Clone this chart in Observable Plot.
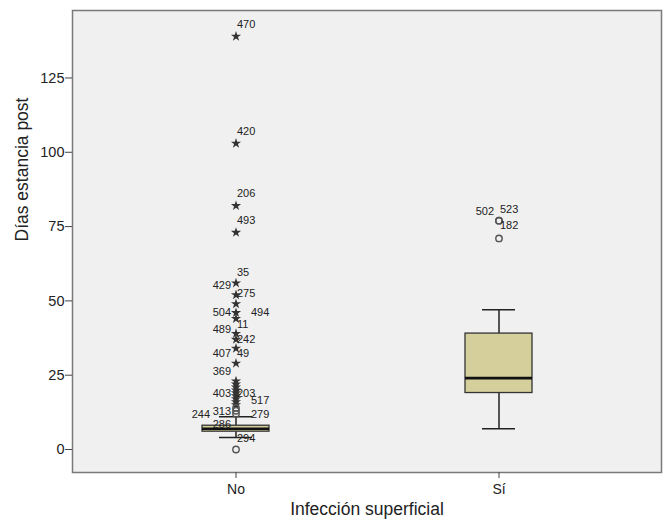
<!DOCTYPE html>
<html><head><meta charset="utf-8">
<script src="https://cdn.jsdelivr.net/npm/d3@7"></script>
<script src="https://cdn.jsdelivr.net/npm/@observablehq/plot@0.6"></script>
<style>body{margin:0;background:#fff;} svg{display:block}</style>
</head><body><div id="chart"></div>
<script>
// Box summaries per group
const groups = ["No", "Sí"];
const q1 = [6, 19];
const median = [7, 24];
const q3 = [8, 39];
const whiskerLow = [4, 7];
const whiskerHigh = [11, 47];
const yTicks = [0, 25, 50, 75, 100, 125];

// Outliers
const starsNo = [139, 103, 82, 73, 56, 52, 49, 46, 44, 39, 37, 34, 29, 23, 22, 21, 20, 19, 18, 17, 16, 15];
const circlesNo = [0, 12, 13, 14];
const circlesSi = [77, 77, 71];

// Case labels
const labelText  = ["470","420","206","493","35","429","275","504","494","11","489","242","407","49","369","403","203","517","313","244","279","286","294","502","523","182"];
const labelGroup = ["No","No","No","No","No","No","No","No","No","No","No","No","No","No","No","No","No","No","No","No","No","No","No","Sí","Sí","Sí"];
const labelValue = [143,107,86,77,59.6,55.2,52.5,46.1,46.1,42,40.4,37,32.3,32.3,26.2,18.9,18.9,16.5,12.9,11.8,11.8,8.4,3.7,80.1,80.8,75.4];
const labelSide  = ["right","right","right","right","right","left","right","left","farRight","right","left","right","left","right","left","left","right","farRight","left","farLeft","farRight","left","right","left","right","right"];

const boxes = groups.map((g, i) => ({group: g, q1: q1[i], med: median[i], q3: q3[i], lo: whiskerLow[i], hi: whiskerHigh[i]}));
const stars = starsNo.map(v => ({group: "No", value: v}));
const circles = [...circlesNo.map(v => ({group: "No", value: v})), ...circlesSi.map(v => ({group: "Sí", value: v}))];
const labels = labelText.map((t, i) => ({text: t, group: labelGroup[i], value: labelValue[i], side: labelSide[i]}));
const sideDx = {right: 1, left: -5, farRight: 15, farLeft: -26};

const ink = "#222";
const chart = Plot.plot({
  width: 663,
  height: 524,
  marginLeft: 72,
  marginRight: 2,
  marginTop: 10,
  marginBottom: 52,
  style: {fontFamily: "'Liberation Sans', Arial, sans-serif", fontSize: "14px", background: "#fff", color: ink},
  x: {domain: groups, type: "band", paddingInner: 0.746, paddingOuter: 0.4886, label: null},
  y: {domain: [-7.74, 147.7], label: null},
  marks: [
    Plot.frame({fill: "#f0f0f0", stroke: "#7a7a7a", strokeWidth: 1.5}),
    Plot.axisY(yTicks, {tickSize: 7, tickPadding: 1, fontSize: 14.5, stroke: "#444", color: ink, label: null}),
    Plot.axisX(groups, {tickSize: 6, tickPadding: 6, fontSize: 14, stroke: "#444", color: ink, label: null}),
    Plot.ruleX(boxes, {x: "group", y1: "q3", y2: "hi", stroke: ink, strokeWidth: 1.5}),
    Plot.ruleX(boxes, {x: "group", y1: "lo", y2: "q1", stroke: ink, strokeWidth: 1.5}),
    Plot.tickY(boxes, {x: "group", y: "hi", insetLeft: 17, insetRight: 17, stroke: ink, strokeWidth: 1.5}),
    Plot.tickY(boxes, {x: "group", y: "lo", insetLeft: 17, insetRight: 17, stroke: ink, strokeWidth: 1.5}),
    Plot.barY(boxes, {x: "group", y1: "q1", y2: "q3", fill: "#d4cf9b", stroke: "#333", strokeWidth: 1.3}),
    Plot.tickY(boxes, {x: "group", y: "med", stroke: "#111", strokeWidth: 2.6}),
    Plot.dot(stars, {x: "group", y: "value", symbol: "star", r: 3.2, fill: "#333", stroke: "none"}),
    Plot.dot(circles, {x: "group", y: "value", symbol: "circle", r: 3.2, fill: "none", stroke: "#555", strokeWidth: 1.4}),
    ...["right", "left", "farRight", "farLeft"].map(s =>
      Plot.text(labels.filter(d => d.side === s), {x: "group", y: "value", text: "text", fontSize: 11, fill: ink,
        dx: sideDx[s], textAnchor: (s === "left" || s === "farLeft") ? "end" : "start"})),
    Plot.text(["Días estancia post"], {frameAnchor: "left", dx: -50, rotate: -90, fontSize: 17.5, fill: ink}),
    Plot.text(["Infección superficial"], {frameAnchor: "bottom", dy: 42, fontSize: 17.5, fill: ink})
  ]
});
document.getElementById("chart").appendChild(chart);
</script>
</body></html>
